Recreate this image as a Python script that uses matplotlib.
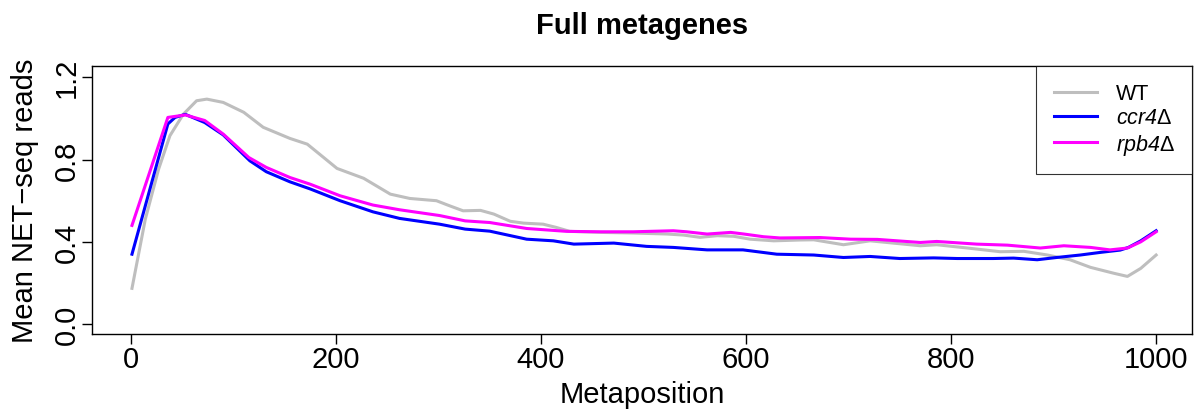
import matplotlib
matplotlib.use("Agg")
import matplotlib.pyplot as plt

plt.rcParams['font.family'] = ['Liberation Sans', 'DejaVu Sans']
plt.rcParams['mathtext.fontset'] = 'custom'
plt.rcParams['mathtext.rm'] = 'Liberation Sans'
plt.rcParams['mathtext.it'] = 'Liberation Sans:italic'

# metagene profiles
wt_x = [1, 14, 27, 38, 51, 64, 74, 90, 110, 129, 155, 172, 188, 201, 227, 253, 272, 298,
        311, 324, 341, 354, 370, 383, 402, 415, 428, 458, 490, 523, 539, 555, 572, 588,
        604, 627, 653, 666, 695, 721, 770, 786, 816, 848, 871, 894, 916, 936, 959, 972,
        985, 1000]
wt_y = [0.174, 0.51, 0.754, 0.916, 1.02, 1.086, 1.094, 1.078, 1.03, 0.957, 0.903, 0.875,
        0.81, 0.757, 0.709, 0.632, 0.611, 0.60, 0.575, 0.551, 0.553, 0.535, 0.50, 0.491,
        0.486, 0.47, 0.451, 0.446, 0.443, 0.438, 0.433, 0.422, 0.43, 0.427, 0.413, 0.405,
        0.409, 0.410, 0.386, 0.405, 0.381, 0.386, 0.370, 0.352, 0.354, 0.336, 0.313,
        0.276, 0.247, 0.232, 0.271, 0.336]

ccr4_x = [1, 36, 43, 53, 72, 90, 116, 132, 155, 175, 204, 236, 262, 301, 326, 350, 386,
          412, 432, 471, 503, 529, 562, 597, 630, 666, 695, 721, 750, 783, 806, 841, 861,
          884, 903, 926, 946, 965, 973, 985, 1000]
ccr4_y = [0.34, 0.973, 1.005, 1.02, 0.98, 0.92, 0.794, 0.741, 0.692, 0.657, 0.60, 0.546,
          0.514, 0.486, 0.462, 0.452, 0.413, 0.405, 0.389, 0.394, 0.378, 0.373, 0.361,
          0.361, 0.340, 0.336, 0.324, 0.329, 0.319, 0.322, 0.319, 0.319, 0.321, 0.313,
          0.324, 0.336, 0.349, 0.360, 0.373, 0.405, 0.454]

rpb4_x = [1, 36, 53, 72, 90, 115, 132, 155, 175, 204, 236, 262, 301, 326, 350, 386, 425,
          458, 490, 529, 542, 562, 585, 598, 617, 633, 672, 702, 728, 770, 786, 825, 855,
          887, 910, 936, 955, 972, 985, 1000]
rpb4_y = [0.48, 1.005, 1.017, 0.99, 0.924, 0.81, 0.762, 0.713, 0.68, 0.624, 0.579, 0.556,
          0.528, 0.502, 0.494, 0.465, 0.451, 0.449, 0.449, 0.454, 0.449, 0.438, 0.446,
          0.438, 0.425, 0.419, 0.421, 0.413, 0.412, 0.397, 0.402, 0.389, 0.384, 0.370,
          0.381, 0.373, 0.361, 0.370, 0.40, 0.449]

# gene names italic, the delta upright
labels = ['WT', r'ccr4$\mathrm{\Delta}$', r'rpb4$\mathrm{\Delta}$']
italic = [False, True, True]
colors = ['#BEBEBE', '#0000FF', '#FF00FF']
x_ticks = [0, 200, 400, 600, 800, 1000]
y_ticks = [0.0, 0.4, 0.8, 1.2]

fig = plt.figure(figsize=(11.97, 4.10), dpi=100)
ax = fig.add_axes([92 / 1197, 75 / 410, 1100 / 1197, 268 / 410])

for xs, ys, lab, c in zip([wt_x, ccr4_x, rpb4_x], [wt_y, ccr4_y, rpb4_y], labels, colors):
    ax.plot(xs, ys, color=c, lw=2.2, label=lab)

ax.set_xlim(-38, 1035)
ax.set_ylim(-0.048, 1.255)
ax.set_xticks(x_ticks)
ax.set_yticks(y_ticks)
ax.set_yticklabels(['0.0', '0.4', '0.8', '1.2'], rotation=90, va='center')
ax.tick_params(direction='out', length=7, width=1, labelsize=21, pad=1)
for s in ax.spines.values():
    s.set_linewidth(1)

ax.set_xlabel('Metaposition', fontsize=21, labelpad=5)
ax.set_ylabel('Mean NET\u2212seq reads', fontsize=21, labelpad=10)
ax.set_title('Full metagenes', fontsize=21, fontweight='bold', pad=24)

leg = ax.legend(loc='upper right', fontsize=15.5, frameon=True, fancybox=False,
                edgecolor='black', borderaxespad=0, handlelength=2.0,
                borderpad=0.8, labelspacing=0.15, handletextpad=0.9)
leg.get_frame().set_linewidth(0.8)
for t, it in zip(leg.get_texts(), italic):
    if it:
        t.set_style('italic')

fig.savefig('out.png', dpi=100)
